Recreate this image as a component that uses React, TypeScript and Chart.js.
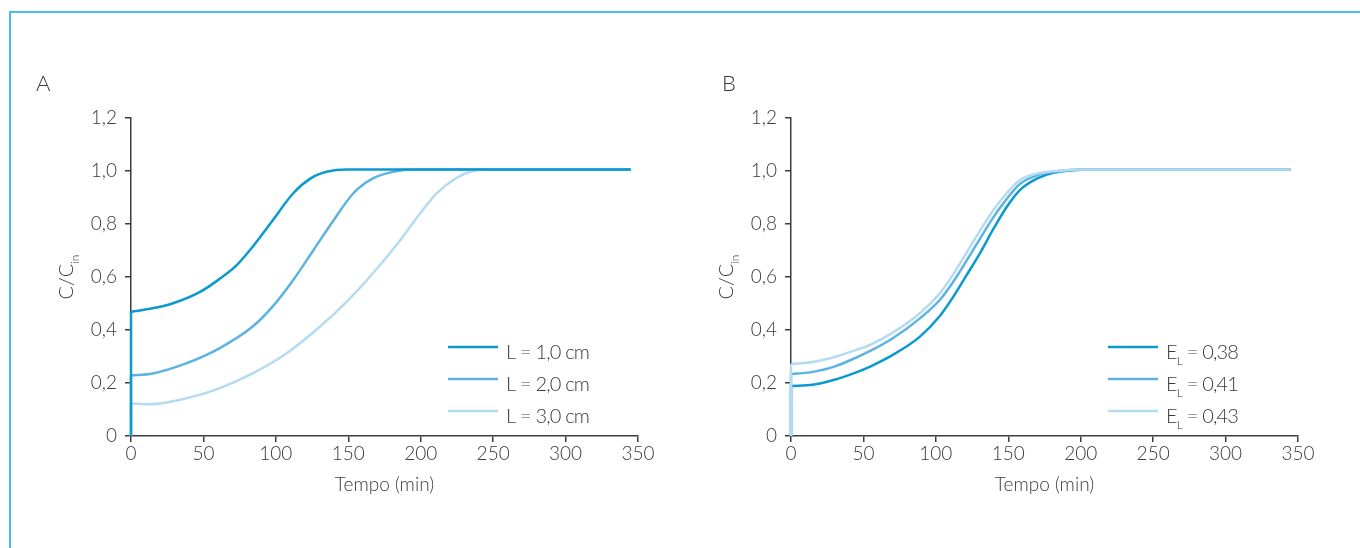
import React, { useEffect, useRef } from 'react';
import { Chart, registerables } from 'chart.js';

Chart.register(...registerables);

// ---------------- data ----------------
const xTicks = [0, 50, 100, 150, 200, 250, 300, 350];
const xTickLabels = ['0', '50', '100', '150', '200', '250', '300', '350'];
const yTicks = [0, 0.2, 0.4, 0.6, 0.8, 1.0, 1.2];
const yTickLabels = ['0', '0,2', '0,4', '0,6', '0,8', '1,0', '1,2'];
const xAxisTitle = 'Tempo (min)';
const yAxisTitle = 'C/C_{in}';
const panelLabels = ['A', 'B'];

// Panel A : L = 1,0 / 2,0 / 3,0 cm
const labelsA = ['L = 1,0 cm', 'L = 2,0 cm', 'L = 3,0 cm'];
const timeA1 = [0, 15, 29, 48, 61, 73, 84, 98, 112, 124, 135, 149, 160, 345];
const valueA1 = [0.469, 0.482, 0.501, 0.545, 0.592, 0.645, 0.714, 0.815, 0.916, 0.972, 0.997, 1.006, 1.006, 1.006];
const timeA2 = [0, 15, 38, 61, 84, 98, 112, 126, 140, 153.5, 167, 181, 195, 205, 345];
const valueA2 = [0.228, 0.236, 0.274, 0.331, 0.413, 0.49, 0.589, 0.702, 0.815, 0.916, 0.972, 0.997, 1.006, 1.006, 1.006];
const timeA3 = [0, 13, 38, 61, 84, 107.5, 130.5, 149, 167, 186, 199.5, 211, 222.5, 234, 245.5, 255, 345];
const valueA3 = [0.123, 0.12, 0.142, 0.18, 0.236, 0.312, 0.413, 0.507, 0.614, 0.74, 0.84, 0.916, 0.966, 0.997, 1.006, 1.006, 1.006];

// Panel B : E_L = 0,38 / 0,41 / 0,43
const labelsB = ['E_{L} = 0,38', 'E_{L} = 0,41', 'E_{L} = 0,43'];
const timeB = [0, 15, 30, 45, 55, 70, 89, 103, 112, 121, 130.5, 140, 149, 158, 170, 181, 195, 205, 345];
const valueB1 = [0.189, 0.193, 0.212, 0.24, 0.263, 0.305, 0.375, 0.455, 0.525, 0.605, 0.69, 0.784, 0.865, 0.928, 0.972, 0.993, 1.003, 1.006, 1.006];
const valueB2 = [0.234, 0.242, 0.262, 0.296, 0.322, 0.368, 0.444, 0.515, 0.582, 0.66, 0.745, 0.828, 0.895, 0.951, 0.984, 0.997, 1.005, 1.006, 1.006];
const valueB3 = [0.272, 0.279, 0.298, 0.325, 0.345, 0.389, 0.463, 0.54, 0.61, 0.69, 0.775, 0.855, 0.917, 0.966, 0.99, 0.999, 1.005, 1.006, 1.006];

// ---------------- styles ----------------
const COLORS = ['#0b9ad0', '#5db3e0', '#b4dbf1'];
const TEXT = '#3a3a3a';
const AXIS = '#3c3c3c';
const FAMILY = 'Lato, "Open Sans", sans-serif';
const LINE_W = 2.5;

type Part = { t: string; sub: boolean; w?: number };

function parseRich(text: string): Part[] {
  const parts: Part[] = [];
  const re = /_\{([^}]*)\}/g;
  let last = 0;
  let m: RegExpExecArray | null;
  while ((m = re.exec(text))) {
    if (m.index > last) parts.push({ t: text.slice(last, m.index), sub: false });
    parts.push({ t: m[1], sub: true });
    last = re.lastIndex;
  }
  if (last < text.length) parts.push({ t: text.slice(last), sub: false });
  return parts;
}

function drawRich(ctx: CanvasRenderingContext2D, text: string, x: number, y: number, mainFont: string, subFont: string, subDy: number, center: boolean) {
  const parts = parseRich(text);
  let total = 0;
  for (const p of parts) {
    ctx.font = p.sub ? subFont : mainFont;
    p.w = ctx.measureText(p.t).width;
    total += p.w;
  }
  let cx = center ? x - total / 2 : x;
  ctx.textAlign = 'left';
  ctx.textBaseline = 'alphabetic';
  for (const p of parts) {
    ctx.font = p.sub ? subFont : mainFont;
    ctx.fillText(p.t, cx, p.sub ? y + subDy : y);
    cx += p.w || 0;
  }
}

const annotPlugin = {
  id: 'annot',
  afterDraw(chart: any, _args: any, opts: any) {
    const ctx: CanvasRenderingContext2D = chart.ctx;
    const area = chart.chartArea;
    ctx.save();
    ctx.fillStyle = TEXT;
    // panel letter
    ctx.font = `300 22px ${FAMILY}`;
    ctx.textAlign = 'left';
    ctx.textBaseline = 'alphabetic';
    ctx.fillText(opts.letter, opts.letterX, 91);
    // y-axis title (rotated, with subscript)
    ctx.save();
    ctx.translate(area.left - 58, (area.top + area.bottom) / 2);
    ctx.rotate(-Math.PI / 2);
    drawRich(ctx, yAxisTitle, 0, 0, `300 20px ${FAMILY}`, `300 12px ${FAMILY}`, 6, true);
    ctx.restore();
    // legend
    const items = opts.items as { text: string; color: string }[];
    items.forEach((it, i) => {
      const ly = area.top + 229 + i * 32;
      const lx = area.left + 317;
      ctx.strokeStyle = it.color;
      ctx.lineWidth = LINE_W;
      ctx.beginPath();
      ctx.moveTo(lx, ly);
      ctx.lineTo(lx + 50, ly);
      ctx.stroke();
      ctx.fillStyle = TEXT;
      (ctx as any).letterSpacing = '-0.8px';
      drawRich(ctx, it.text, lx + 58, ly + 11.5, `300 20px ${FAMILY}`, `300 12px ${FAMILY}`, 6, false);
      (ctx as any).letterSpacing = '0px';
    });
    ctx.restore();
  },
};

type Series = { label: string; t: number[]; v: number[]; color: string };

function buildDatasets(series: Series[]) {
  const ds: any[] = [];
  series.forEach((s) => {
    ds.push({
      label: s.label + ' (0)',
      data: [{ x: s.t[0], y: 0 }, { x: s.t[0], y: s.v[0] }],
      borderColor: s.color,
      borderWidth: LINE_W,
      pointRadius: 0,
      tension: 0,
      clip: 4,
    });
    ds.push({
      label: s.label,
      data: s.t.map((x, i) => ({ x, y: s.v[i] })),
      borderColor: s.color,
      borderWidth: LINE_W,
      pointRadius: 0,
      cubicInterpolationMode: 'monotone',
      clip: 4,
    });
  });
  return ds;
}

function makeConfig(series: Series[], letter: string, letterX: number, legendItems: { text: string; color: string }[]) {
  return {
    type: 'line' as const,
    data: { datasets: buildDatasets(series) },
    plugins: [annotPlugin],
    options: {
      animation: false,
      responsive: false,
      devicePixelRatio: 1,
      layout: { padding: { left: 0, right: 42, top: 118, bottom: 52 } },
      plugins: {
        legend: { display: false },
        tooltip: { enabled: false },
        annot: { letter, letterX, items: legendItems },
      },
      scales: {
        x: {
          type: 'linear',
          min: 0,
          max: 350,
          afterBuildTicks: (scale: any) => {
            scale.ticks = xTicks.map((v) => ({ value: v }));
          },
          afterFit: (scale: any) => {
            scale.height = 60;
          },
          ticks: {
            callback: (_v: any, i: number) => xTickLabels[i],
            font: { family: FAMILY, size: 19, weight: '300' },
            color: TEXT,
            padding: 0,
            maxRotation: 0,
            autoSkip: false,
          },
          grid: { display: true, drawOnChartArea: false, drawTicks: true, tickLength: 6, color: AXIS, lineWidth: 1.5 },
          border: { display: true, color: AXIS, width: 1.5 },
          title: {
            display: true,
            text: xAxisTitle,
            font: { family: FAMILY, size: 19, weight: '300' },
            color: TEXT,
            padding: { top: 0, bottom: 0 },
          },
        },
        y: {
          type: 'linear',
          min: 0,
          max: 1.2,
          afterBuildTicks: (scale: any) => {
            scale.ticks = yTicks.map((v) => ({ value: v }));
          },
          afterFit: (scale: any) => {
            scale.width = 131;
          },
          ticks: {
            callback: (_v: any, i: number) => yTickLabels[i],
            font: { family: FAMILY, size: 19, weight: '300' },
            color: TEXT,
            padding: 8,
            autoSkip: false,
          },
          grid: { display: true, drawOnChartArea: false, drawTicks: true, tickLength: 6, color: AXIS, lineWidth: 1.5 },
          border: { display: true, color: AXIS, width: 1.5 },
        },
      },
    },
  };
}

function Panel({ left, config }: { left: number; config: any }) {
  const ref = useRef<HTMLCanvasElement | null>(null);
  useEffect(() => {
    if (!ref.current) return;
    const chart = new Chart(ref.current, config);
    return () => chart.destroy();
  }, [config]);
  return (
    <canvas
      ref={ref}
      width={680}
      height={548}
      style={{ position: 'absolute', left, top: 0, width: 680, height: 548, display: 'block' }}
    />
  );
}

const seriesA: Series[] = [
  { label: labelsA[0], t: timeA1, v: valueA1, color: COLORS[0] },
  { label: labelsA[1], t: timeA2, v: valueA2, color: COLORS[1] },
  { label: labelsA[2], t: timeA3, v: valueA3, color: COLORS[2] },
];
// in panel B the lightest curve is drawn on top
const seriesB: Series[] = [
  { label: labelsB[2], t: timeB, v: valueB3, color: COLORS[2] },
  { label: labelsB[1], t: timeB, v: valueB2, color: COLORS[1] },
  { label: labelsB[0], t: timeB, v: valueB1, color: COLORS[0] },
];

const configA = makeConfig(seriesA, panelLabels[0], 36,
  labelsA.map((text, i) => ({ text, color: COLORS[i] })));
const configB = makeConfig(seriesB, panelLabels[1], 62,
  labelsB.map((text, i) => ({ text, color: COLORS[i] })));

export default function App() {
  return (
    <div style={{ position: 'absolute', left: 0, top: 0, width: 1360, height: 548, background: '#fff', overflow: 'hidden' }}>
      <div
        style={{
          position: 'absolute',
          left: 9,
          top: 11,
          right: -10,
          bottom: -10,
          borderTop: '2px solid #4cbde4',
          borderLeft: '2px solid #4cbde4',
        }}
      />
      <Panel left={0} config={configA} />
      <Panel left={660} config={configB} />
    </div>
  );
}
